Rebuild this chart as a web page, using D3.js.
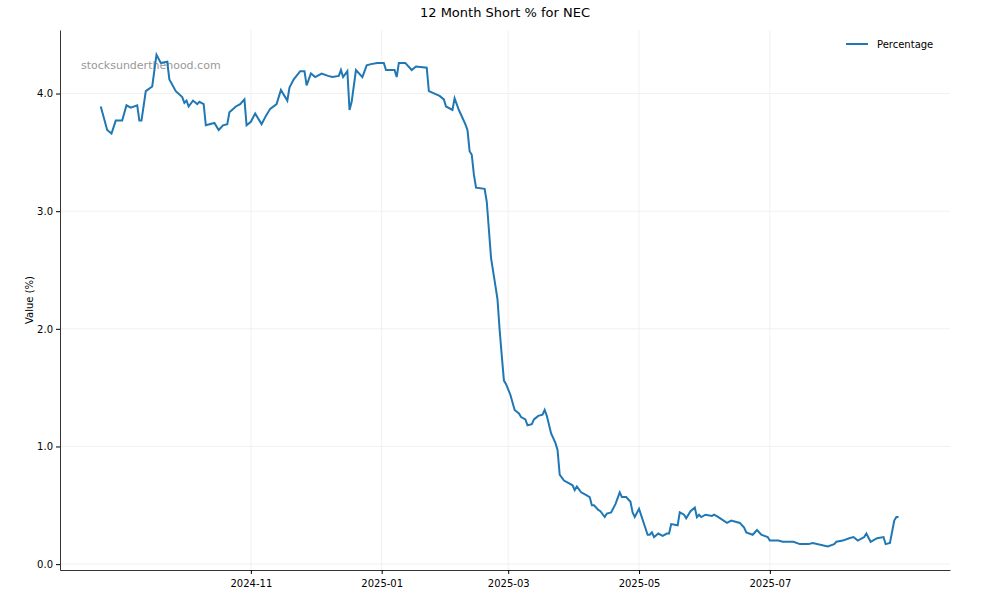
<!DOCTYPE html>
<html><head><meta charset="utf-8">
<script src="https://cdn.jsdelivr.net/npm/d3@7"></script>
<style>body{margin:0;background:#fff}text{font-family:"DejaVu Sans",sans-serif}</style>
</head><body><svg id="c" width="1000" height="600"></svg>
<script>
const dates=["2024-08-23","2024-08-26","2024-08-28","2024-08-30","2024-09-02","2024-09-04","2024-09-06","2024-09-09","2024-09-10","2024-09-11","2024-09-13","2024-09-16","2024-09-18","2024-09-20","2024-09-23","2024-09-24","2024-09-27","2024-09-30","2024-10-01","2024-10-02","2024-10-03","2024-10-05","2024-10-07","2024-10-08","2024-10-10","2024-10-11","2024-10-15","2024-10-17","2024-10-19","2024-10-21","2024-10-22","2024-10-25","2024-10-27","2024-10-29","2024-10-30","2024-11-01","2024-11-03","2024-11-06","2024-11-08","2024-11-10","2024-11-13","2024-11-15","2024-11-18","2024-11-19","2024-11-21","2024-11-24","2024-11-26","2024-11-27","2024-11-29","2024-12-01","2024-12-04","2024-12-07","2024-12-09","2024-12-12","2024-12-13","2024-12-14","2024-12-16","2024-12-17","2024-12-18","2024-12-20","2024-12-23","2024-12-25","2024-12-27","2024-12-30","2025-01-02","2025-01-03","2025-01-07","2025-01-08","2025-01-09","2025-01-12","2025-01-15","2025-01-17","2025-01-22","2025-01-23","2025-01-28","2025-01-30","2025-01-31","2025-02-03","2025-02-04","2025-02-06","2025-02-09","2025-02-10","2025-02-11","2025-02-12","2025-02-13","2025-02-14","2025-02-18","2025-02-19","2025-02-21","2025-02-23","2025-02-24","2025-02-25","2025-02-26","2025-02-27","2025-02-28","2025-03-02","2025-03-04","2025-03-06","2025-03-07","2025-03-09","2025-03-10","2025-03-12","2025-03-13","2025-03-15","2025-03-17","2025-03-18","2025-03-19","2025-03-21","2025-03-23","2025-03-24","2025-03-25","2025-03-27","2025-03-29","2025-03-31","2025-04-01","2025-04-02","2025-04-04","2025-04-06","2025-04-08","2025-04-09","2025-04-10","2025-04-12","2025-04-13","2025-04-15","2025-04-16","2025-04-18","2025-04-20","2025-04-22","2025-04-23","2025-04-25","2025-04-27","2025-04-28","2025-04-29","2025-05-01","2025-05-03","2025-05-05","2025-05-06","2025-05-07","2025-05-08","2025-05-10","2025-05-12","2025-05-14","2025-05-15","2025-05-16","2025-05-19","2025-05-20","2025-05-22","2025-05-23","2025-05-25","2025-05-27","2025-05-28","2025-05-29","2025-05-30","2025-06-01","2025-06-04","2025-06-05","2025-06-07","2025-06-11","2025-06-13","2025-06-17","2025-06-19","2025-06-20","2025-06-23","2025-06-25","2025-06-27","2025-06-30","2025-07-01","2025-07-03","2025-07-05","2025-07-07","2025-07-08","2025-07-10","2025-07-12","2025-07-15","2025-07-19","2025-07-21","2025-07-28","2025-07-31","2025-08-01","2025-08-04","2025-08-07","2025-08-09","2025-08-11","2025-08-14","2025-08-15","2025-08-17","2025-08-18","2025-08-20","2025-08-23","2025-08-24","2025-08-26","2025-08-28","2025-08-29","2025-08-30","2025-08-31","2025-09-03","2025-09-04"];
const values=[3.89,3.69,3.66,3.77,3.77,3.90,3.88,3.90,3.77,3.77,4.02,4.06,4.33,4.26,4.27,4.12,4.02,3.97,3.92,3.94,3.89,3.94,3.91,3.93,3.91,3.73,3.75,3.69,3.73,3.74,3.84,3.89,3.91,3.95,3.73,3.76,3.83,3.74,3.81,3.87,3.91,4.03,3.94,4.05,4.12,4.19,4.19,4.07,4.17,4.14,4.17,4.15,4.14,4.15,4.20,4.14,4.19,3.86,3.93,4.20,4.14,4.24,4.25,4.26,4.26,4.20,4.20,4.14,4.26,4.26,4.20,4.23,4.22,4.02,3.98,3.95,3.89,3.86,3.96,3.86,3.74,3.69,3.51,3.48,3.31,3.20,3.19,3.08,2.60,2.37,2.25,1.99,1.77,1.56,1.53,1.44,1.31,1.28,1.25,1.23,1.18,1.19,1.23,1.26,1.27,1.31,1.26,1.11,1.03,0.97,0.76,0.71,0.69,0.67,0.63,0.66,0.61,0.59,0.57,0.50,0.50,0.46,0.45,0.40,0.43,0.44,0.51,0.61,0.57,0.57,0.53,0.44,0.40,0.47,0.36,0.25,0.25,0.27,0.23,0.26,0.24,0.26,0.26,0.34,0.33,0.44,0.42,0.39,0.45,0.48,0.40,0.42,0.40,0.42,0.41,0.42,0.40,0.35,0.37,0.35,0.31,0.27,0.25,0.29,0.25,0.23,0.20,0.20,0.20,0.19,0.19,0.19,0.19,0.17,0.17,0.18,0.15,0.17,0.19,0.20,0.22,0.23,0.20,0.23,0.26,0.19,0.20,0.22,0.23,0.17,0.18,0.37,0.40,0.40];
const yTicks=[0,1,2,3,4];
const seriesName="Percentage";
const title="12 Month Short % for NEC";

const svg=d3.select("#c");
const L=60,R=950,T=30,B=570;
const parse=d3.timeParse("%Y-%m-%d");
const data=dates.map((d,i)=>({d:parse(d),v:values[i]}));
const x=d3.scaleTime().domain([parse("2024-08-04"),parse("2025-09-23")]).range([L,R]);
const y=d3.scaleLinear().domain([-0.05,4.54]).range([B,T]);
const xt=d3.timeMonth.every(2).range(parse("2024-10-01"),parse("2025-09-01"));
const g=svg.append("g");
g.selectAll(".gx").data(xt).join("line").attr("x1",d=>x(d)).attr("x2",d=>x(d)).attr("y1",T).attr("y2",B).attr("stroke","#eee").attr("stroke-width",0.8);
g.selectAll(".gy").data(yTicks).join("line").attr("x1",L).attr("x2",R).attr("y1",d=>y(d)).attr("y2",d=>y(d)).attr("stroke","#eee").attr("stroke-width",0.8);
svg.append("text").attr("x",81).attr("y",69).attr("fill","#999").attr("font-size",11).text("stocksunderthehood.com");
svg.append("path").datum(data).attr("fill","none").attr("stroke","#1f77b4").attr("stroke-width",2)
 .attr("d",d3.line().x(d=>x(d.d)).y(d=>y(d.v)));
const xa=svg.append("g").attr("transform",`translate(0,${B})`).call(d3.axisBottom(x).tickValues(xt).tickFormat(d3.timeFormat("%Y-%m")).tickSize(4).tickSizeOuter(0));
const ya=svg.append("g").attr("transform",`translate(${L},0)`).call(d3.axisLeft(y).tickValues(yTicks).tickSize(4).tickSizeOuter(0));
[xa,ya].forEach(a=>{a.selectAll("text").attr("font-size",10).attr("fill","#000").style("font-family","DejaVu Sans");a.select(".domain").attr("stroke","#000").attr("stroke-width",0.8);});
xa.selectAll("text").attr("dy","1em");
svg.append("text").attr("x",(L+R)/2).attr("y",17).attr("text-anchor","middle").attr("font-size",13).text(title);
svg.append("text").attr("transform",`translate(33,${(T+B)/2}) rotate(-90)`).attr("text-anchor","middle").attr("font-size",10).text("Value (%)");
svg.append("line").attr("x1",846).attr("x2",868).attr("y1",44).attr("y2",44).attr("stroke","#1f77b4").attr("stroke-width",2);
svg.append("text").attr("x",877).attr("y",48).attr("font-size",10).text(seriesName);
</script></body></html>
